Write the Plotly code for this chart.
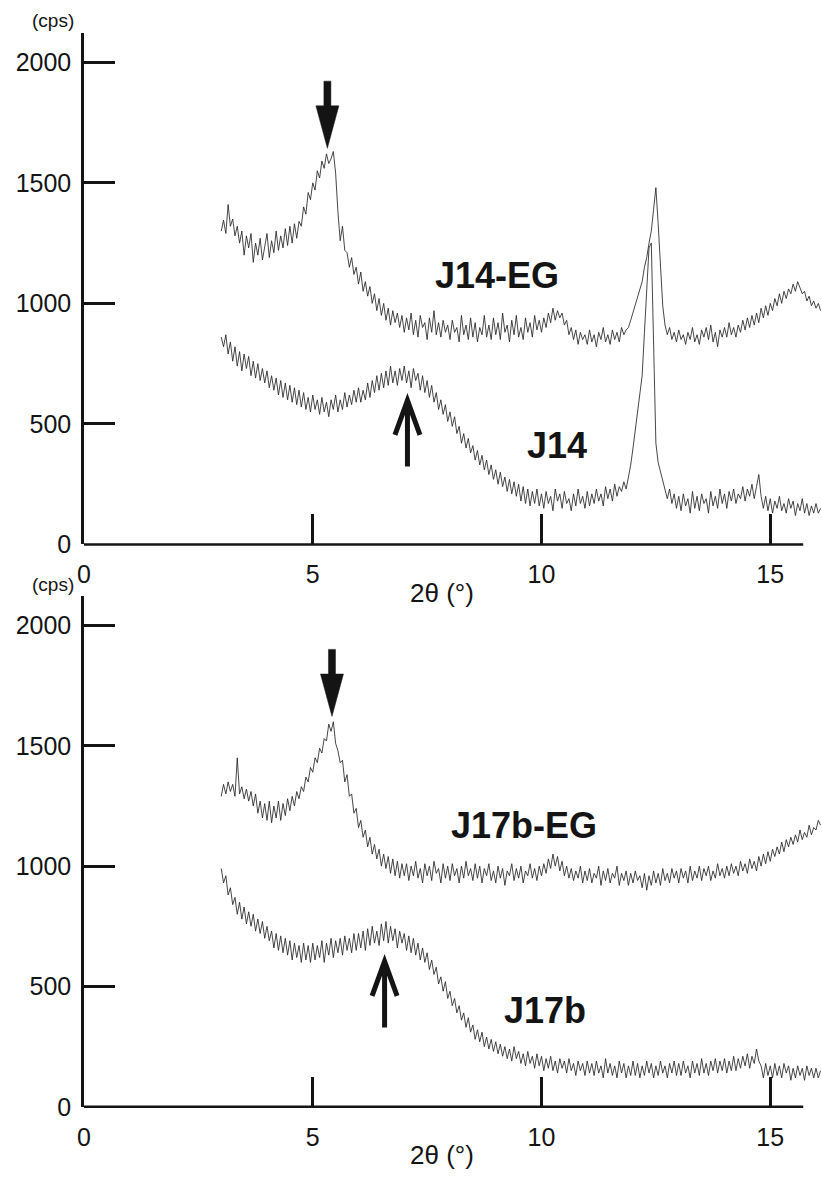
import plotly.graph_objects as go

# ---------------- data (cps), scan from 3.00 deg 2theta in 0.05 deg steps ----------------
SCAN_START = 3.0
SCAN_STEP = 0.05

j14_eg = [
    1300, 1345, 1290, 1410, 1320, 1350, 1280, 1320, 1250, 1300, 1200, 1280, 1230, 1290, 1170, 1250, 1200, 1270, 1180, 1240,
    1290, 1190, 1260, 1210, 1300, 1220, 1280, 1230, 1310, 1240, 1320, 1250, 1330, 1270, 1340, 1320, 1400, 1370, 1460, 1430,
    1500, 1470, 1550, 1520, 1590, 1560, 1620, 1580, 1600, 1630, 1540, 1380, 1260, 1320, 1220, 1210, 1150, 1190, 1120, 1150,
    1080, 1130, 1050, 1090, 1030, 1070, 1000, 1040, 970, 1020, 950, 1000, 930, 980, 910, 970, 920, 960, 900, 950,
    880, 940, 890, 960, 870, 930, 860, 950, 900, 920, 850, 940, 880, 970, 870, 920, 860, 930, 880, 910,
    850, 930, 880, 900, 840, 950, 870, 910, 850, 940, 860, 920, 840, 900, 870, 950, 860, 910, 850, 940,
    870, 920, 850, 960, 880, 910, 840, 930, 870, 950, 860, 900, 850, 940, 880, 920, 860, 950, 890, 930,
    880, 940, 900, 960, 920, 980, 930, 970, 940, 960, 910, 930, 870, 900, 850, 890, 830, 880, 850, 870,
    830, 890, 840, 870, 820, 880, 850, 900, 840, 870, 830, 890, 850, 880, 840, 900, 870, 890, 900, 930,
    960, 990, 1020, 1060, 1090, 1150, 1190, 1250, 1300, 1390, 1480, 1330, 1160, 990, 910, 870, 900, 850, 880, 840,
    890, 850, 870, 830, 880, 850, 900, 840, 870, 830, 890, 860, 900, 850, 910, 840, 880, 820, 890, 860,
    900, 860, 920, 870, 900, 860, 910, 880, 930, 890, 940, 900, 950, 910, 960, 920, 980, 940, 990, 950,
    1000, 970, 1020, 990, 1040, 1000, 1050, 1020, 1060, 1040, 1080, 1050, 1090, 1060, 1040, 1050, 1010, 1030, 990, 1010,
    980, 1000, 970,
]

j14 = [
    860, 820, 870, 790, 840, 760, 820, 740, 800, 720, 790, 730, 780, 700, 760, 690, 750, 680, 730, 670,
    720, 650, 700, 640, 690, 620, 680, 610, 670, 600, 660, 590, 650, 580, 640, 570, 630, 560, 610, 550,
    620, 560, 600, 540, 610, 550, 590, 530, 600, 560, 620, 550, 600, 560, 630, 570, 620, 580, 640, 590,
    650, 590, 640, 600, 670, 610, 680, 630, 700, 640, 710, 650, 720, 660, 740, 670, 720, 660, 730, 680,
    740, 670, 720, 650, 730, 680, 710, 640, 700, 630, 680, 610, 660, 590, 630, 560, 600, 540, 580, 510,
    550, 490, 530, 460, 490, 420, 460, 400, 440, 380, 410, 350, 390, 330, 370, 310, 350, 290, 330, 270,
    310, 250, 300, 240, 280, 220, 270, 210, 260, 200, 250, 180, 240, 170, 230, 160, 220, 170, 230, 160,
    210, 150, 220, 170, 200, 140, 230, 180, 210, 150, 220, 170, 190, 140, 210, 160, 230, 170, 200, 150,
    220, 160, 210, 170, 230, 180, 210, 160, 240, 190, 230, 180, 250, 200, 240, 220, 260, 230, 280, 330,
    400, 470, 540, 620, 700, 880, 1080, 1230, 1250, 760, 420, 340, 300, 260, 230, 190, 230, 170, 210, 150,
    200, 140, 210, 160, 190, 130, 220, 150, 200, 140, 210, 170, 190, 130, 220, 160, 200, 150, 230, 170,
    210, 150, 220, 180, 230, 170, 210, 190, 240, 180, 230, 200, 250, 190, 240, 290, 200, 150, 200, 140,
    190, 130, 180, 150, 200, 140, 170, 130, 190, 150, 180, 120, 170, 140, 190, 130, 170, 120, 160, 130,
    170, 130, 150,
]

j17b_eg = [
    1290, 1340, 1300, 1350, 1310, 1340, 1290, 1450, 1300, 1330, 1280, 1320, 1270, 1310, 1250, 1300, 1220, 1270, 1200, 1260,
    1190, 1270, 1180, 1250, 1200, 1270, 1190, 1260, 1210, 1280, 1230, 1290, 1250, 1310, 1280, 1330, 1310, 1370, 1350, 1410,
    1390, 1450, 1430, 1490, 1470, 1530, 1520, 1590, 1560, 1600, 1510, 1480, 1430, 1440, 1350, 1380, 1290, 1300, 1220, 1240,
    1160, 1190, 1120, 1150, 1080, 1120, 1050, 1090, 1030, 1070, 1000, 1050, 990, 1040, 970, 1030, 960, 1020, 950, 1010,
    960, 1010, 940, 1000, 960, 1020, 950, 990, 930, 1010, 960, 1000, 940, 1020, 970, 990, 930, 1010, 950, 1000,
    940, 1010, 960, 990, 930, 1000, 950, 1020, 960, 990, 940, 1010, 950, 1000, 930, 990, 960, 1010, 940, 980,
    930, 1000, 950, 990, 920, 980, 960, 1010, 940, 990, 950, 1000, 930, 980, 960, 1010, 950, 990, 940, 1000,
    960, 1010, 970, 1030, 990, 1050, 1000, 1040, 980, 1020, 960, 1000, 950, 990, 940, 980, 950, 1000, 930, 980,
    940, 990, 930, 970, 950, 1000, 920, 980, 940, 990, 930, 970, 950, 1000, 920, 970, 940, 980, 920, 970,
    930, 980, 940, 960, 910, 970, 900, 960, 920, 980, 930, 970, 920, 990, 940, 970, 930, 990, 950, 980,
    930, 990, 950, 980, 930, 1000, 940, 980, 950, 1000, 940, 990, 960, 1000, 940, 980, 950, 1010, 960, 990,
    950, 1000, 960, 1010, 970, 1000, 960, 1020, 980, 1010, 970, 1030, 990, 1020, 980, 1040, 1000, 1050, 1010, 1060,
    1020, 1070, 1040, 1080, 1050, 1100, 1060, 1110, 1080, 1120, 1090, 1130, 1100, 1150, 1110, 1140, 1120, 1170, 1130, 1160,
    1150, 1190, 1170,
]

j17b = [
    990, 930, 960, 880, 910, 840, 870, 800, 850, 780, 830, 760, 810, 750, 800, 730, 780, 720, 770, 700,
    750, 690, 730, 660, 720, 650, 710, 640, 700, 630, 690, 610, 680, 620, 670, 600, 680, 610, 670, 600,
    680, 610, 670, 620, 690, 600, 680, 630, 700, 620, 690, 640, 700, 630, 710, 650, 700, 640, 720, 650,
    720, 660, 730, 650, 740, 670, 750, 680, 730, 670, 760, 690, 770, 680, 750, 690, 740, 660, 730, 680,
    720, 650, 710, 640, 700, 630, 680, 610, 660, 600, 640, 570, 610, 550, 580, 510, 540, 480, 520, 450,
    480, 420, 450, 390, 420, 360, 390, 330, 370, 310, 340, 280, 320, 270, 310, 250, 290, 240, 280, 230,
    270, 220, 260, 210, 250, 200, 240, 190, 250, 200, 230, 180, 220, 170, 230, 180, 210, 160, 220, 170,
    210, 150, 200, 160, 210, 150, 190, 140, 200, 160, 190, 140, 200, 150, 180, 130, 190, 150, 180, 130,
    190, 140, 180, 130, 190, 140, 170, 120, 200, 140, 180, 130, 170, 120, 190, 140, 180, 120, 170, 130,
    190, 130, 180, 120, 170, 130, 190, 140, 180, 120, 170, 130, 190, 140, 170, 120, 180, 140, 190, 130,
    180, 130, 190, 140, 170, 120, 190, 140, 180, 130, 200, 140, 180, 130, 190, 150, 200, 140, 190, 150,
    200, 140, 190, 150, 210, 150, 200, 160, 210, 170, 220, 160, 210, 180, 240, 190, 170, 120, 180, 130,
    170, 120, 180, 130, 170, 120, 180, 140, 170, 110, 160, 120, 170, 130, 160, 110, 170, 130, 160, 120,
    160, 120, 150,
]

x_tick_vals = [0, 5, 10, 15]
x_tick_text = ["0", "5", "10", "15"]
y_tick_vals = [0, 500, 1000, 1500, 2000]
y_tick_text = ["0", "500", "1000", "1500", "2000"]

# sample names and where they sit (2theta, cps)
top_names = ["J14-EG", "J14"]
top_name_x = [9.02, 10.33]
top_name_y = [1115, 410]
bot_names = ["J17b-EG", "J17b"]
bot_name_x = [9.62, 10.07]
bot_name_y = [1170, 402]

# arrow tips (2theta, cps): filled down arrows on EG peaks, open up arrows on untreated humps
down_tip_x = [5.32, 5.42]
down_tip_y = [1643, 1622]
up_tip_x = [7.07, 6.57]
up_tip_y = [598, 604]

# ---------------- styling ----------------
INK = "#141414"
FONT = "Liberation Sans, Arial, Helvetica, sans-serif"
W, H = 822, 1185
L_MARGIN = 84
PX_PER_DEG = 45.75
X_MAX = (W - L_MARGIN) / PX_PER_DEG
Y_MAX = 2123
X_AXIS_END = 15.72
TOP_DOMAIN = [1 - 551 / H, 1 - 33 / H]
BOT_DOMAIN = [1 - 1120 / H, 1 - 603 / H]
PX_PER_CPS = (TOP_DOMAIN[1] - TOP_DOMAIN[0]) * H / Y_MAX


def xs(n):
    return [round(SCAN_START + SCAN_STEP * i, 2) for i in range(n)]


def paper_x(px):
    return (px - L_MARGIN) / (W - L_MARGIN)


fig = go.Figure()
panels = [
    ("x", "y", [j14_eg, j14], top_names, top_name_x, top_name_y, 0),
    ("x2", "y2", [j17b_eg, j17b], bot_names, bot_name_x, bot_name_y, 1),
]

shapes = []
annotations = []
for xa, ya, series, names, nx, ny, k in panels:
    for s in series:
        fig.add_trace(go.Scatter(x=xs(len(s)), y=s, mode="lines", xaxis=xa, yaxis=ya,
                                 line=dict(color="#262626", width=0.85), hoverinfo="skip"))
    for name, px_, py_ in zip(names, nx, ny):
        annotations.append(dict(x=px_, y=py_, xref=xa, yref=ya, text=name, showarrow=False,
                                font=dict(family=FONT, size=36, color=INK, weight=700),
                                xanchor="center", yanchor="middle"))
    # x axis line (stops short of the plot's right edge)
    dom = "x domain" if xa == "x" else "x2 domain"
    ydom = "y domain" if ya == "y" else "y2 domain"
    shapes.append(dict(type="line", xref=dom, yref=ydom, x0=0, x1=X_AXIS_END / X_MAX, y0=0, y1=0,
                       line=dict(color=INK, width=2.5)))
    # filled down arrow
    hx = 11.5 / PX_PER_DEG
    sx = 3.5 / PX_PER_DEG
    hh = 43 / PX_PER_CPS
    sh = 25 / PX_PER_CPS
    tx, ty = down_tip_x[k], down_tip_y[k]
    path = (f"M{tx - sx},{ty + hh + sh} L{tx + sx},{ty + hh + sh} L{tx + sx},{ty + hh} "
            f"L{tx + hx},{ty + hh} L{tx},{ty} L{tx - hx},{ty + hh} L{tx - sx},{ty + hh} Z")
    shapes.append(dict(type="path", xref=xa, yref=ya, path=path, fillcolor=INK,
                       line=dict(color=INK, width=0.5)))
    # open up arrow
    ux, uy = up_tip_x[k], up_tip_y[k]
    ax_ = 12.5 / PX_PER_DEG
    ah = 35 / PX_PER_CPS
    al = 67 / PX_PER_CPS
    path = (f"M{ux - ax_},{uy - ah} L{ux},{uy} L{ux + ax_},{uy - ah} "
            f"M{ux},{uy} L{ux},{uy - al}")
    shapes.append(dict(type="path", xref=xa, yref=ya, path=path,
                       line=dict(color=INK, width=5)))

# axis titles and unit labels (paper x is measured from the plot area's left edge)
for cy in (600, 1169):
    annotations.append(dict(x=paper_x(442), y=1 - cy / H, xref="paper", yref="paper", text="2θ (°)",
                            showarrow=False, font=dict(family=FONT, size=26, color=INK),
                            xanchor="center", yanchor="middle"))
for cy in (21, 591):
    annotations.append(dict(x=paper_x(53), y=1 - cy / H, xref="paper", yref="paper", text="(cps)",
                            showarrow=False, font=dict(family=FONT, size=19, color=INK),
                            xanchor="center", yanchor="middle"))

xaxis_style = dict(range=[0, X_MAX], showgrid=False, zeroline=False, showline=False,
                   ticks="inside", ticklen=30, tickwidth=2.5, tickcolor=INK,
                   tickvals=x_tick_vals, ticktext=x_tick_text,
                   tickfont=dict(family=FONT, size=25, color=INK), ticklabelstandoff=13)
yaxis_style = dict(range=[0, Y_MAX], showgrid=False, zeroline=False, showline=True,
                   linewidth=2.5, linecolor=INK,
                   ticks="inside", ticklen=31, tickwidth=2.5, tickcolor=INK,
                   tickvals=y_tick_vals, ticktext=y_tick_text,
                   tickfont=dict(family=FONT, size=25, color=INK), ticklabelstandoff=5)

fig.update_layout(
    width=W, height=H,
    margin=dict(l=L_MARGIN, r=0, t=0, b=0),
    paper_bgcolor="white", plot_bgcolor="white",
    showlegend=False,
    xaxis=dict(domain=[0, 1], anchor="y", **xaxis_style),
    yaxis=dict(domain=TOP_DOMAIN, anchor="x", **yaxis_style),
    xaxis2=dict(domain=[0, 1], anchor="y2", **xaxis_style),
    yaxis2=dict(domain=BOT_DOMAIN, anchor="x2", **yaxis_style),
    shapes=shapes,
    annotations=annotations,
)

fig.write_html("out.html")
